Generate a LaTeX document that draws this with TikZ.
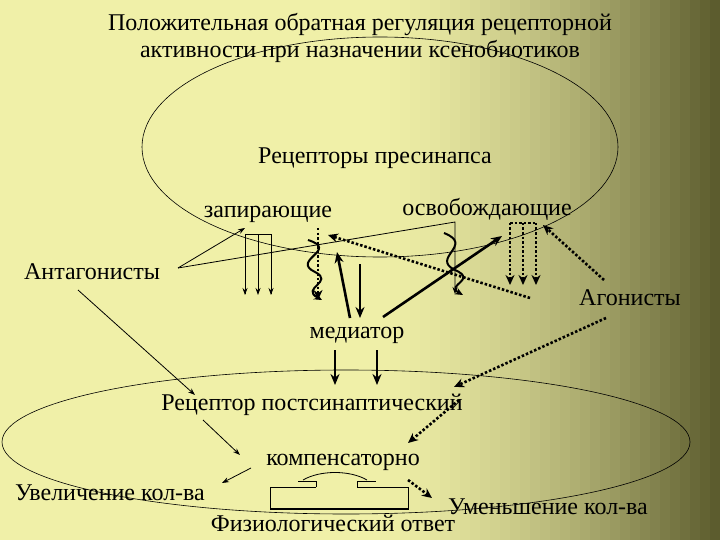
\documentclass[tikz,border=0pt]{standalone}
\usepackage{fontspec}
\setmainfont{Liberation Serif}
\usetikzlibrary{arrows.meta}
\definecolor{bglight}{RGB}{240,240,168}
\definecolor{bgdark}{RGB}{85,85,40}
\begin{document}
\begin{tikzpicture}[x=1pt,y=-1pt,
  lbl/.style={font=\fontsize{24}{27}\selectfont,inner sep=0pt},
  thin/.style={line width=0.8pt,-{Stealth[length=7pt,width=5pt]}},
  thick/.style={line width=2.6pt,-{Stealth[length=11pt,width=9pt]}},
  dots/.style={line width=2.6pt,dash pattern=on 2.5pt off 2pt,-{Stealth[length=10pt,width=9pt]}},
  wave/.style={line width=2pt,-{Stealth[length=8pt,width=7pt]}}]
\useasboundingbox (0,0) rectangle (720,540);
\fill[bglight] (0,0) rectangle (720,540);
\foreach \i in {0,...,36}{
  \pgfmathsetmacro{\xa}{360+\i*10}
  \pgfmathsetmacro{\p}{100*(\i/36)^1.6}
  \fill[bgdark!\p!bglight] (\xa,0) rectangle (\xa+10.5,540);
}
% ellipses
\draw[line width=0.6pt] (380,147) ellipse [x radius=238,y radius=110];
\draw[line width=0.6pt] (346,442) ellipse [x radius=344,y radius=72];
% text
\node[lbl,align=center] (title) at (360,38) {Положительная обратная регуляция рецепторной\\активности при назначении ксенобиотиков};
\node[lbl] (pre) at (375,158) {Рецепторы пресинапса};
\node[lbl] (zap) at (268,214) {запирающие};
\node[lbl] (osv) at (487,209) {освобождающие};
\node[lbl] (ant) at (92,272) {Антагонисты};
\node[lbl] (ago) at (630,298) {Агонисты};
\node[lbl] (med) at (357,335) {медиатор};
\node[lbl] (post) at (312,405) {Рецептор постсинаптический};
\node[lbl] (komp) at (343,462) {компенсаторно};
\node[lbl] (uvel) at (110,493) {Увеличение кол-ва};
\node[lbl] (umen) at (548,507) {Уменьшение кол-ва};
\node[lbl] (fiz) at (333,523) {Физиологический ответ};
% coordinates
\coordinate (a0) at (178,268);
\coordinate (z1) at (245,228);
\coordinate (k1) at (455,222);
\coordinate (k2) at (455,294);
\draw[thin] (a0) -- (z1);
\draw[thin] (a0) -- (k1) -- (k2);
% bracket under zap
\draw[line width=0.8pt] (245,294) -- (245,234) -- (271,234) -- (271,294);
\foreach \x [count=\i] in {245,258,271}{\coordinate (zb\i) at (\x,234);\coordinate (ze\i) at (\x,295);\draw[thin] (zb\i) -- (ze\i);}
% dotted under osv
\draw[line width=2.6pt,dash pattern=on 2.5pt off 2pt] (510,223) -- (536,223);
\foreach \x [count=\i] in {510,523,536}{\coordinate (ob\i) at (\x,223);\coordinate (oe\i) at (\x,285);\draw[dots] (ob\i) -- (oe\i);}
% dotted at 318
\coordinate (d1) at (318,228); \coordinate (d2) at (318,300);
\draw[dots] (d1) -- (d2);
% agonists dotted
\coordinate (g1) at (530,298); \coordinate (g2) at (328,235);
\draw[dots] (g1) -- (g2);
\coordinate (g3) at (604,280); \coordinate (g4) at (543,225);
\draw[dots] (g3) -- (g4);
% waves
\coordinate (w1) at (308,240); \coordinate (w2) at (322,300);
\draw[wave] (w1) .. controls (340,250) and (290,260) .. (315,272) .. controls (335,282) and (300,288) .. (w2);
\coordinate (w3) at (444,233); \coordinate (w4) at (463,295);
\draw[wave] (w3) .. controls (475,245) and (430,258) .. (455,270) .. controls (478,280) and (445,285) .. (w4);
% thick
\coordinate (t1) at (350,318); \coordinate (t2) at (337,252);
\draw[thick] (t1) -- (t2);
\coordinate (t3) at (360,264); \coordinate (t4) at (360,318);
\draw[thick] (t3) -- (t4);
\coordinate (t5) at (383,317); \coordinate (t6) at (502,236);
\draw[thick] (t5) -- (t6);
\coordinate (m1) at (335,350); \coordinate (m2) at (335,385);
\coordinate (m3) at (377,350); \coordinate (m4) at (377,385);
\draw[thick] (m1) -- (m2); \draw[thick] (m3) -- (m4);
\coordinate (g5) at (606,318); \coordinate (g6) at (454,387);
\draw[dots] (g5) -- (g6);
\coordinate (a1) at (78,290); \coordinate (a2) at (195,395);
\draw[thin] (a1) -- (a2);
% lower
\coordinate (p1) at (203,420); \coordinate (p2) at (240,455);
\draw[thin] (p1) -- (p2);
\coordinate (p3) at (459,400); \coordinate (p4) at (408,443);
\draw[dots] (p3) -- (p4);
\coordinate (c1) at (251,468); \coordinate (c2) at (222,483);
\draw[thin] (c1) -- (c2);
\coordinate (c3) at (408,480); \coordinate (c4) at (432,498);
\draw[dots] (c3) -- (c4);
% box
\draw[line width=0.8pt] (316,487) -- (270,487) -- (270,509) -- (408,509) -- (408,487) -- (357,487) -- (357,481) -- (376,481);
\draw[line width=0.8pt] (316,487) -- (316,481) -- (298,481);
\draw[line width=2pt] (270,509) -- (408,509);
\draw[line width=0.8pt] (303,480) .. controls (320,470) and (350,470) .. (367,480);
\end{tikzpicture}
\end{document}
